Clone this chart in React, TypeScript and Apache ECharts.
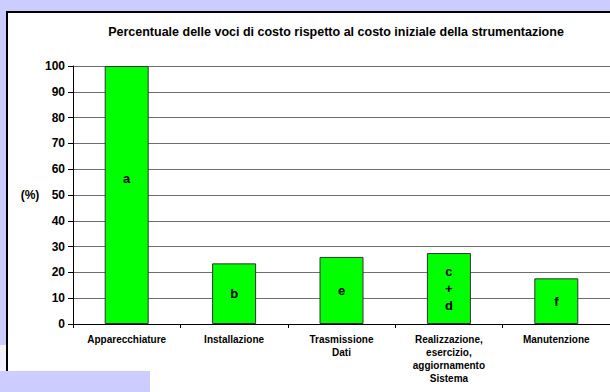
import React, { useEffect, useRef } from "react";
import * as echarts from "echarts";

const categories = [
  "Apparecchiature",
  "Installazione",
  "Trasmissione\nDati",
  "Realizzazione,\nesercizio,\naggiornamento\nSistema",
  "Manutenzione",
];
const values = [100, 23.5, 26, 27.5, 17.7];
const barLabels = ["a", "b", "e", "c\n+\nd", "f"];
const titleText = "Percentuale delle voci di costo rispetto al costo iniziale della strumentazione";
const yName = "(%)";

export default function App() {
  const ref = useRef<HTMLDivElement>(null);
  useEffect(() => {
    if (!ref.current) return;
    const chart = echarts.init(ref.current, null, { renderer: "svg" });
    const font = "'Liberation Sans', Arial, sans-serif";
    chart.setOption({
      animation: false,
      backgroundColor: "transparent",
      title: {
        text: titleText,
        left: 331,
        top: 20,
        textAlign: "center",
        textStyle: { fontFamily: font, fontSize: 12.5, fontWeight: "bold", color: "#000" },
      },
      graphic: [
        {
          type: "text",
          x: 30,
          y: 195,
          style: {
            text: yName,
            fontFamily: font,
            fontSize: 12,
            fontWeight: "bold",
            fill: "#000",
            textAlign: "center",
            textVerticalAlign: "middle",
          },
        },
      ],
      grid: { left: 73, top: 66, width: 540, height: 258, containLabel: false },
      xAxis: {
        type: "category",
        data: categories,
        axisLine: { show: true, lineStyle: { color: "#000", width: 1 } },
        axisTick: { show: true, alignWithLabel: false, length: 4, lineStyle: { color: "#000" } },
        axisLabel: {
          interval: 0,
          margin: 9,
          fontFamily: font,
          fontSize: 10,
          fontWeight: "bold",
          color: "#000",
          lineHeight: 13,
        },
        splitLine: { show: false },
      },
      yAxis: {
        type: "value",
        min: 0,
        max: 100,
        interval: 10,
        axisLine: { show: true, lineStyle: { color: "#000", width: 1 } },
        axisTick: { show: true, length: 5, lineStyle: { color: "#000" } },
        axisLabel: { margin: 8, fontFamily: font, fontSize: 12, fontWeight: "bold", color: "#000" },
        splitLine: { show: true, lineStyle: { color: "#6e6e6e", width: 1 } },
      },
      series: [
        {
          type: "bar",
          data: values.map((v, i) => ({
            value: v,
            label: {
              show: true,
              position: "inside",
              formatter: barLabels[i],
              offset: i === 0 ? [0, -17] : [0, 0],
            },
          })),
          barWidth: 44,
          itemStyle: { color: "#00ff00", borderColor: "#333", borderWidth: 1 },
          label: {
            show: true,
            position: "inside",
            fontFamily: font,
            fontSize: 13,
            fontWeight: "bold",
            color: "#000",
            lineHeight: 17,
          },
        },
      ],
    });
    return () => chart.dispose();
  }, []);

  return (
    <div
      style={{
        position: "fixed",
        left: 0,
        top: 0,
        width: 610,
        height: 392,
        background: "#ccccff",
        overflow: "hidden",
      }}
    >
      <div
        style={{
          position: "absolute",
          left: 0,
          top: 345,
          width: 7,
          height: 26,
          background: "#f2f2ff",
        }}
      />
      <div
        style={{
          position: "absolute",
          left: 6,
          top: 11,
          width: 620,
          height: 400,
          background: "#fff",
          borderLeft: "2px solid #000",
          borderTop: "2px solid #000",
          boxSizing: "border-box",
        }}
      />
      <div ref={ref} style={{ position: "absolute", left: 0, top: 0, width: 610, height: 392 }} />
      <div
        style={{
          position: "absolute",
          left: 0,
          top: 371,
          width: 150,
          height: 21,
          background: "#ccccff",
        }}
      />
    </div>
  );
}
